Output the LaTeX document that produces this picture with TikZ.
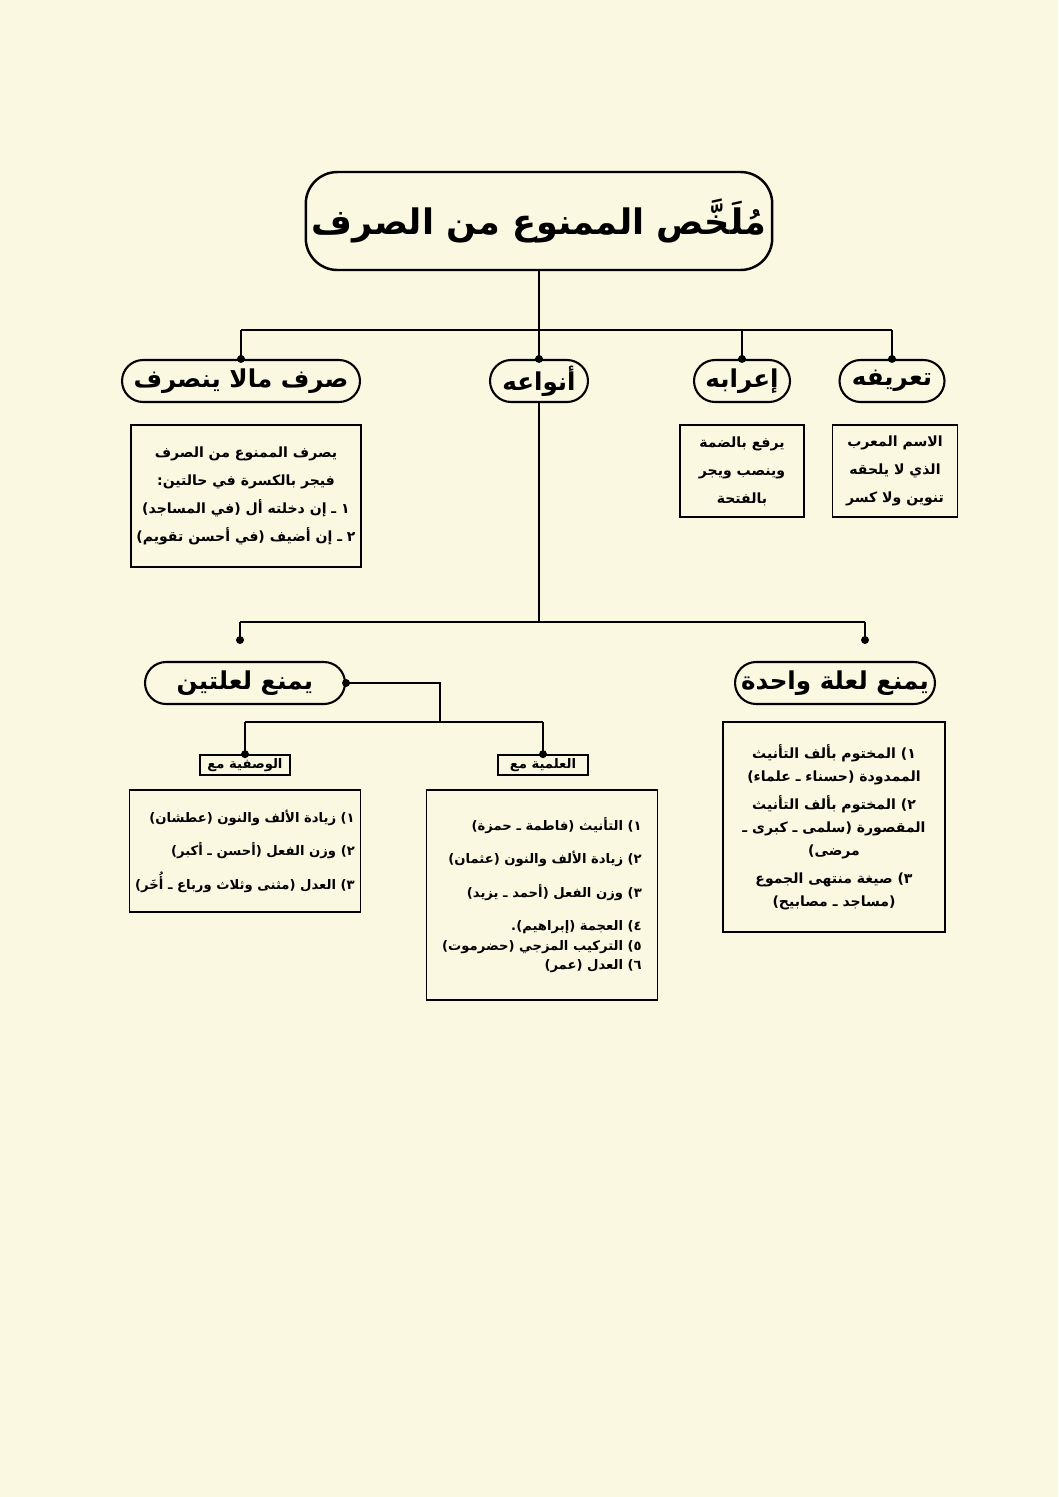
\documentclass[tikz,border=0pt]{standalone}
\usepackage{fontspec}
\newfontfamily\arabicfont[Script=Arabic]{DejaVu Sans}
\usetikzlibrary{positioning}
\TeXXeTstate=1
\newcommand{\ar}[1]{{\arabicfont\beginR #1\endR}}
\definecolor{paper}{HTML}{FBF8E1}
\tikzset{
  head/.style={draw,very thick,rounded corners=12pt,inner sep=3pt,font=\bfseries\fontsize{14}{17}\selectfont,minimum height=0.84cm},
  box/.style={draw,thick,inner sep=3pt,font=\bfseries\fontsize{8}{16}\selectfont},
  tag/.style={draw,thick,inner sep=2pt,font=\bfseries\fontsize{7.5}{9}\selectfont},
  dot/.style={circle,fill,inner sep=1.6pt}
}
\begin{document}
\begin{tikzpicture}[x=0.02cm,y=-0.02cm,line width=0.9pt]
    \fill[paper] (0,0) rectangle (1058,1497);
    \useasboundingbox (0,0) rectangle (1058,1497);
    % title
    \node[draw,line width=1.4pt,rounded corners=18pt,minimum width=8.84cm,minimum height=1.96cm,font=\bfseries\fontsize{20}{26}\selectfont] (title) at (539,221) {\ar{مُلَخَّص الممنوع من الصرف}};
    % level two
    \node[head,minimum width=4.76cm] (sarf) at (241,381) {\ar{صرف مالا ينصرف}};
    \node[head,minimum width=1.96cm] (anwa) at (539,381) {\ar{أنواعه}};
    \node[head,minimum width=1.92cm] (irab) at (742,381) {\ar{إعرابه}};
    \node[head,minimum width=2.1cm] (tarif) at (892,381) {\ar{تعريفه}};
    \coordinate (top) at (539,330);
    \draw (title) -- (top);
    \draw (sarf.north |- top) -- (tarif.north |- top);
    \foreach \n in {sarf,anwa,irab,tarif}
        \draw (\n.north |- top) -- (\n.north) node[dot] {};
    % boxes under level two
    \node[box,minimum width=4.48cm,minimum height=2.84cm,align=center] (sarfbox) at (246,496)
        {\ar{يصرف الممنوع من الصرف}\\\ar{فيجر بالكسرة في حالتين:}\\\ar{١ ـ إن دخلته أل (في المساجد)}\\\ar{٢ ـ إن أضيف (في أحسن تقويم)}};
    \node[box,minimum width=2.48cm,minimum height=1.84cm,align=center] (irabbox) at (742,471)
        {\ar{يرفع بالضمة}\\\ar{وينصب ويجر}\\\ar{بالفتحة}};
    \node[box,minimum width=2.5cm,minimum height=1.84cm,align=center] (tarifbox) at (895,471)
        {\ar{الاسم المعرب}\\\ar{الذي لا يلحقه}\\\ar{تنوين ولا كسر}};
    % kinds
    \node[head,minimum width=4cm] (two) at (245,683) {\ar{يمنع لعلتين}};
    \node[head,minimum width=4cm] (one) at (835,683) {\ar{يمنع لعلة واحدة}};
    \coordinate (mid) at (539,622);
    \draw (anwa) -- (mid);
    \draw (mid -| 240,0) -- (mid -| 865,0);
    \draw (mid -| 240,0) -- (240,640) node[dot] {};
    \draw (mid -| 865,0) -- (865,640) node[dot] {};
    % two causes
    \node[tag,minimum width=1.8cm] (wasf) at (245,765) {\ar{الوصفية مع}};
    \node[tag,minimum width=1.8cm] (alam) at (543,765) {\ar{العلمية مع}};
    \coordinate (split) at (440,722);
    \draw (two.east) node[dot] {} -- (two.east -| split) -- (split);
    \draw (wasf.north |- split) -- (alam.north |- split);
    \draw (wasf.north |- split) -- (wasf.north) node[dot] {};
    \draw (alam.north |- split) -- (alam.north) node[dot] {};
    \node[box,minimum width=4.62cm,minimum height=2.44cm,align=right,font=\bfseries\fontsize{7.5}{19}\selectfont] (wasfbox) at (245,851)
        {\ar{١) زيادة الألف والنون (عطشان)}\\\ar{٢) وزن الفعل (أحسن ـ أكبر)}\\\ar{٣) العدل (مثنى وثلاث ورباع ـ أُخَر)}};
    \node[box,minimum width=4.62cm,minimum height=4.2cm,align=right,font=\bfseries\fontsize{7.5}{19}\selectfont] (alambox) at (542,895)
        {\ar{١) التأنيث (فاطمة ـ حمزة)}\\\ar{٢) زيادة الألف والنون (عثمان)}\\\ar{٣) وزن الفعل (أحمد ـ يزيد)}\\\ar{٤) العجمة (إبراهيم).}\\[-8pt]\ar{٥) التركيب المزجي (حضرموت)}\\[-8pt]\ar{٦) العدل (عمر)}};
    \node[box,minimum width=4.44cm,minimum height=4.2cm,align=center,font=\bfseries\fontsize{8}{13}\selectfont] (onebox) at (834,827)
        {\ar{١) المختوم بألف التأنيث}\\\ar{الممدودة (حسناء ـ علماء)}\\[3pt]\ar{٢) المختوم بألف التأنيث}\\\ar{المقصورة (سلمى ـ كبرى ـ}\\\ar{مرضى)}\\[3pt]\ar{٣) صيغة منتهى الجموع}\\\ar{(مساجد ـ مصابيح)}};
\end{tikzpicture}
\end{document}
